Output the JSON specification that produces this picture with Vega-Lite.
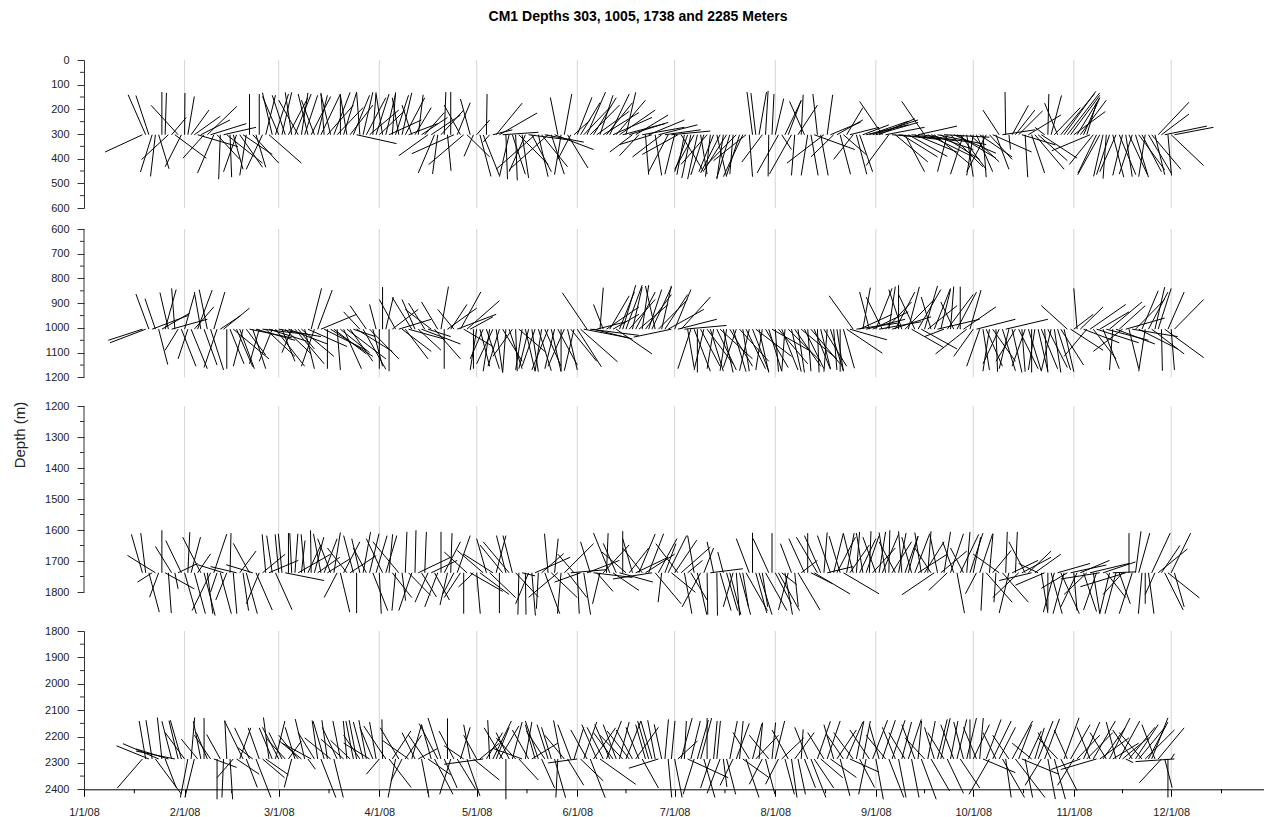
{
"$schema": "https://vega.github.io/schema/vega-lite/v6.json",
"padding": {"left": 12, "top": 10, "right": 0, "bottom": 0},
"title": {"text": "CM1 Depths 303, 1005, 1738 and 2285 Meters", "font": "Liberation Sans", "fontSize": 14, "fontWeight": "bold", "color": "#000", "anchor": "middle", "offset": 30},
"config": {"font": "Liberation Sans", "view": {"stroke": null}, "axis": {"grid": false, "labelOverlap": false, "labelFont": "Liberation Sans", "labelFontSize": 11, "labelColor": "#222", "tickColor": "#333", "domainColor": "#333", "tickWidth": 1, "domainWidth": 1, "tickSize": 7}},
"datasets": {
"p1": [
{"d":18,"b":303,"e":6.5,"f":373},{"d":19,"b":303,"e":13.6,"f":141},{"d":20,"b":303,"e":16,"f":144},{"d":21,"b":303,"e":17.4,"f":454},{"d":22,"b":303,"e":20.5,"f":472},{"d":23,"b":303,"e":26.2,"f":441},{"d":24,"b":303,"e":24,"f":130},{"d":25,"b":303,"e":25.4,"f":133},{"d":26,"b":303,"e":17.7,"f":404},{"d":27,"b":303,"e":31.5,"f":233},{"d":28,"b":303,"e":37.7,"f":398},{"d":29,"b":303,"e":20.7,"f":184},{"d":30,"b":303,"e":25,"f":433},{"d":31,"b":303,"e":31.1,"f":134},{"d":32,"b":303,"e":34,"f":148},{"d":33,"b":303,"e":38.5,"f":203},{"d":34,"b":303,"e":42,"f":228},{"d":35,"b":303,"e":47.4,"f":351},{"d":36,"b":303,"e":45,"f":243},{"d":37,"b":303,"e":30.5,"f":398},{"d":38,"b":303,"e":47.1,"f":188},{"d":39,"b":303,"e":50,"f":258},{"d":40,"b":303,"e":35,"f":458},{"d":41,"b":303,"e":48,"f":403},{"d":42,"b":303,"e":41.5,"f":483},{"d":43,"b":303,"e":53,"f":273},{"d":44,"b":303,"e":55,"f":418},{"d":45,"b":303,"e":45.5,"f":475},{"d":46,"b":303,"e":49,"f":443},{"d":47,"b":303,"e":43,"f":453},{"d":48,"b":303,"e":55,"f":435},{"d":49,"b":303,"e":58,"f":383},{"d":50,"b":303,"e":48,"f":468},{"d":51,"b":303,"e":51,"f":138},{"d":52,"b":303,"e":60,"f":418},{"d":53,"b":303,"e":56,"f":435},{"d":54,"b":303,"e":54,"f":138},{"d":55,"b":303,"e":50,"f":443},{"d":56,"b":303,"e":59,"f":143},{"d":57,"b":303,"e":67,"f":418},{"d":58,"b":303,"e":55,"f":133},{"d":59,"b":303,"e":63,"f":138},
{"d":60,"b":303,"e":55,"f":148},{"d":61,"b":303,"e":64,"f":131},{"d":62,"b":303,"e":58,"f":143},{"d":63,"b":303,"e":69,"f":153},{"d":64,"b":303,"e":62,"f":131},{"d":65,"b":303,"e":70,"f":138},{"d":66,"b":303,"e":60,"f":163},{"d":67,"b":303,"e":69,"f":133},{"d":68,"b":303,"e":72,"f":143},{"d":69,"b":303,"e":66,"f":138},{"d":70,"b":303,"e":76,"f":148},{"d":71,"b":303,"e":67,"f":163},{"d":72,"b":303,"e":75,"f":143},{"d":73,"b":303,"e":79,"f":138},{"d":74,"b":303,"e":73,"f":133},{"d":75,"b":303,"e":83,"f":183},{"d":76,"b":303,"e":73,"f":138},{"d":77,"b":303,"e":82,"f":131},{"d":78,"b":303,"e":86,"f":193},{"d":79,"b":303,"e":79,"f":138},{"d":80,"b":303,"e":84,"f":131},{"d":81,"b":303,"e":79,"f":143},{"d":82,"b":303,"e":89,"f":183},{"d":83,"b":303,"e":88,"f":143},{"d":84,"b":303,"e":96.3,"f":339},{"d":85,"b":303,"e":84,"f":131},{"d":86,"b":303,"e":89,"f":131},{"d":87,"b":303,"e":93,"f":153},{"d":88,"b":303,"e":97,"f":203},{"d":89,"b":303,"e":90,"f":131},{"d":90,"b":303,"e":94,"f":138},{"d":91,"b":303,"e":99,"f":203},{"d":92,"b":303,"e":90,"f":138},{"d":93,"b":303,"e":96,"f":138},{"d":94,"b":303,"e":104,"f":243},{"d":95,"b":303,"e":96,"f":131},{"d":96,"b":303,"e":100,"f":143},{"d":97,"b":303,"e":95,"f":153},{"d":98,"b":303,"e":101,"f":133},{"d":99,"b":303,"e":105,"f":153},
{"d":100,"b":303,"e":109,"f":258},{"d":101,"b":303,"e":98,"f":183},{"d":102,"b":303,"e":107,"f":193},{"d":103,"b":303,"e":104.5,"f":141},{"d":104,"b":303,"e":112,"f":233},{"d":105,"b":303,"e":111,"f":213},{"d":106,"b":303,"e":97,"f":388},{"d":107,"b":303,"e":116,"f":223},{"d":108,"b":303,"e":103,"f":458},{"d":109,"b":303,"e":107.4,"f":462},{"d":110,"b":303,"e":117,"f":203},{"d":111,"b":303,"e":111.5,"f":130},{"d":112,"b":303,"e":113.1,"f":449},{"d":113,"b":303,"e":113,"f":130},{"d":114,"b":303,"e":101,"f":380},{"d":115,"b":303,"e":119,"f":173},{"d":116,"b":303,"e":111,"f":183},{"d":117,"b":303,"e":106.2,"f":424},{"d":118,"b":303,"e":125,"f":393},{"d":119,"b":303,"e":116,"f":158},{"d":120,"b":303,"e":117.1,"f":391},{"d":121,"b":303,"e":125,"f":243},{"d":122,"b":303,"e":125.4,"f":472},{"d":123,"b":303,"e":128,"f":468},{"d":124,"b":303,"e":124.2,"f":138},{"d":125,"b":303,"e":123,"f":333},{"d":126,"b":303,"e":132,"f":283},{"d":127,"b":303,"e":135,"f":175},{"d":128,"b":303,"e":139.6,"f":215},{"d":129,"b":303,"e":140,"f":293},{"d":130,"b":303,"e":130.5,"f":483},{"d":131,"b":303,"e":128,"f":473},{"d":132,"b":303,"e":136,"f":463},{"d":133,"b":303,"e":133.5,"f":488},{"d":134,"b":303,"e":143,"f":423},{"d":135,"b":303,"e":137,"f":478},{"d":136,"b":303,"e":131,"f":453},{"d":137,"b":303,"e":149,"f":323},{"d":138,"b":303,"e":144,"f":453},{"d":139,"b":303,"e":127,"f":443},
{"d":140,"b":303,"e":143,"f":473},{"d":141,"b":303,"e":149,"f":433},{"d":142,"b":303,"e":154,"f":333},{"d":143,"b":303,"e":131,"f":445},{"d":144,"b":303,"e":148,"f":463},{"d":145,"b":303,"e":157,"f":363},{"d":146,"b":303,"e":143.7,"f":152},{"d":147,"b":303,"e":145,"f":465},{"d":148,"b":303,"e":150.3,"f":138},{"d":149,"b":303,"e":155.3,"f":438},{"d":150,"b":303,"e":146,"f":403},{"d":151,"b":303,"e":156,"f":243},{"d":152,"b":303,"e":156.5,"f":152},{"d":153,"b":303,"e":159,"f":173},{"d":154,"b":303,"e":162,"f":193},{"d":155,"b":303,"e":160.7,"f":130},{"d":156,"b":303,"e":165,"f":183},{"d":157,"b":303,"e":164,"f":153},{"d":158,"b":303,"e":168,"f":208},{"d":159,"b":303,"e":163,"f":143},{"d":160,"b":303,"e":171,"f":213},{"d":161,"b":303,"e":169,"f":173},{"d":162,"b":303,"e":168,"f":138},{"d":163,"b":303,"e":175,"f":233},{"d":164,"b":303,"e":173,"f":163},{"d":165,"b":303,"e":176,"f":203},{"d":166,"b":303,"e":179,"f":258},{"d":167,"b":303,"e":170,"f":131},{"d":168,"b":303,"e":180,"f":253},{"d":169,"b":303,"e":162,"f":373},{"d":170,"b":303,"e":180,"f":223},{"d":171,"b":303,"e":165,"f":388},{"d":172,"b":303,"e":185,"f":273},{"d":173,"b":303,"e":174,"f":465},{"d":174,"b":303,"e":185,"f":243},{"d":175,"b":303,"e":165,"f":343},{"d":176,"b":303,"e":178,"f":468},{"d":177,"b":303,"e":189,"f":263},{"d":178,"b":303,"e":169,"f":393},{"d":179,"b":303,"e":190,"f":283},
{"d":180,"b":303,"e":174,"f":453},{"d":181,"b":303,"e":193,"f":288},{"d":182,"b":303,"e":179,"f":463},{"d":183,"b":303,"e":172,"f":383},{"d":184,"b":303,"e":191,"f":453},{"d":185,"b":303,"e":182.7,"f":465},{"d":186,"b":303,"e":182,"f":453},{"d":187,"b":303,"e":184.2,"f":479},{"d":188,"b":303,"e":182,"f":443},{"d":189,"b":303,"e":186,"f":483},{"d":190,"b":303,"e":192,"f":463},{"d":191,"b":303,"e":187,"f":466},{"d":192,"b":303,"e":184,"f":423},{"d":193,"b":303,"e":191.5,"f":473},{"d":194,"b":303,"e":189.5,"f":453},{"d":195,"b":303,"e":198,"f":473},{"d":196,"b":303,"e":190,"f":458},{"d":197,"b":303,"e":195,"f":483},{"d":198,"b":303,"e":191,"f":448},{"d":199,"b":303,"e":195,"f":478},{"d":200,"b":303,"e":199,"f":463},{"d":201,"b":303,"e":192,"f":423},{"d":202,"b":303,"e":198,"f":468},{"d":203,"b":303,"e":197,"f":473},{"d":204,"b":303,"e":194,"f":408},{"d":205,"b":303,"e":206,"f":473},{"d":206,"b":303,"e":204.3,"f":130},{"d":207,"b":303,"e":205.5,"f":134},{"d":208,"b":303,"e":210.3,"f":130},{"d":209,"b":303,"e":202.7,"f":414},{"d":210,"b":303,"e":210.8,"f":125},{"d":211,"b":303,"e":210.8,"f":472},{"d":212,"b":303,"e":212.6,"f":138},{"d":213,"b":303,"e":215.6,"f":157},{"d":214,"b":303,"e":207.4,"f":458},{"d":215,"b":303,"e":218,"f":363},{"d":216,"b":303,"e":221,"f":165},{"d":217,"b":303,"e":221,"f":163},{"d":218,"b":303,"e":211.2,"f":462},{"d":219,"b":303,"e":218,"f":468},
{"d":220,"b":303,"e":226,"f":183},{"d":221,"b":303,"e":221.6,"f":141},{"d":222,"b":303,"e":217.4,"f":168},{"d":223,"b":303,"e":221,"f":468},{"d":224,"b":303,"e":226.2,"f":468},{"d":225,"b":303,"e":237.5,"f":363},{"d":226,"b":303,"e":224.6,"f":138},{"d":227,"b":303,"e":229.3,"f":468},{"d":228,"b":303,"e":216.6,"f":418},{"d":229,"b":303,"e":230.7,"f":141},{"d":230,"b":303,"e":239.3,"f":252},{"d":231,"b":303,"e":224,"f":393},{"d":232,"b":303,"e":240,"f":243},{"d":233,"b":303,"e":236.2,"f":463},{"d":234,"b":303,"e":241,"f":383},{"d":235,"b":303,"e":240,"f":193},{"d":236,"b":303,"e":245,"f":273},{"d":237,"b":303,"e":231,"f":403},{"d":238,"b":303,"e":241.2,"f":463},{"d":239,"b":303,"e":243,"f":453},{"d":240,"b":303,"e":248,"f":263},{"d":241,"b":303,"e":254,"f":263},{"d":242,"b":303,"e":254,"f":248},{"d":243,"b":303,"e":257,"f":243},{"d":244,"b":303,"e":257,"f":253},{"d":245,"b":303,"e":256,"f":238},{"d":246,"b":303,"e":239,"f":168},{"d":247,"b":303,"e":259,"f":273},{"d":248,"b":303,"e":241,"f":428},{"d":249,"b":303,"e":263,"f":318},{"d":250,"b":303,"e":260,"f":413},{"d":251,"b":303,"e":264,"f":323},{"d":252,"b":303,"e":263,"f":393},{"d":253,"b":303,"e":259,"f":453},{"d":254,"b":303,"e":266,"f":391},{"d":255,"b":303,"e":269,"f":328},{"d":256,"b":303,"e":269,"f":373},{"d":257,"b":303,"e":269,"f":268},{"d":258,"b":303,"e":273,"f":333},{"d":259,"b":303,"e":252,"f":168},
{"d":260,"b":303,"e":274,"f":393},{"d":261,"b":303,"e":274,"f":363},{"d":262,"b":303,"e":273,"f":423},{"d":263,"b":303,"e":278,"f":343},{"d":264,"b":303,"e":276,"f":403},{"d":265,"b":303,"e":279,"f":313},{"d":266,"b":303,"e":263,"f":453},{"d":267,"b":303,"e":277,"f":433},{"d":268,"b":303,"e":281,"f":378},{"d":269,"b":303,"e":281,"f":398},{"d":270,"b":303,"e":278,"f":443},{"d":271,"b":303,"e":267,"f":463},{"d":272,"b":303,"e":274,"f":473},{"d":273,"b":303,"e":282,"f":413},{"d":274,"b":303,"e":272,"f":468},{"d":275,"b":303,"e":280,"f":453},{"d":276,"b":303,"e":286,"f":393},{"d":277,"b":303,"e":278,"f":475},{"d":278,"b":303,"e":272,"f":453},{"d":279,"b":303,"e":286,"f":403},{"d":280,"b":303,"e":292,"f":373},{"d":281,"b":303,"e":285,"f":443},{"d":282,"b":303,"e":277,"f":203},{"d":283,"b":303,"e":293,"f":283},{"d":284,"b":303,"e":283.8,"f":130},{"d":285,"b":303,"e":285.5,"f":363},{"d":286,"b":303,"e":291,"f":184},{"d":287,"b":303,"e":293,"f":203},{"d":288,"b":303,"e":295.4,"f":206},{"d":289,"b":303,"e":299.3,"f":344},{"d":290,"b":303,"e":290.8,"f":475},{"d":291,"b":303,"e":301,"f":223},{"d":292,"b":303,"e":296,"f":458},{"d":293,"b":303,"e":302,"f":443},{"d":294,"b":303,"e":303,"f":408},{"d":295,"b":303,"e":306,"f":398},{"d":296,"b":303,"e":293,"f":273},{"d":297,"b":303,"e":297.3,"f":138},{"d":298,"b":303,"e":301.2,"f":144},{"d":299,"b":303,"e":307,"f":193},
{"d":300,"b":303,"e":296,"f":175},{"d":301,"b":303,"e":311.3,"f":138},{"d":302,"b":303,"e":311.8,"f":127},{"d":303,"b":303,"e":313,"f":133},{"d":304,"b":303,"e":313,"f":143},{"d":305,"b":303,"e":314.7,"f":209},{"d":306,"b":303,"e":313,"f":153},{"d":307,"b":303,"e":315,"f":163},{"d":308,"b":303,"e":313,"f":153},{"d":309,"b":303,"e":312,"f":173},{"d":310,"b":303,"e":298.2,"f":368},{"d":311,"b":303,"e":303.6,"f":424},{"d":312,"b":303,"e":306.3,"f":458},{"d":313,"b":303,"e":306.2,"f":465},{"d":314,"b":303,"e":311.1,"f":472},{"d":315,"b":303,"e":314,"f":481},{"d":316,"b":303,"e":312,"f":465},{"d":317,"b":303,"e":320.4,"f":475},{"d":318,"b":303,"e":313,"f":453},{"d":319,"b":303,"e":324.1,"f":465},{"d":320,"b":303,"e":317,"f":468},{"d":321,"b":303,"e":323,"f":473},{"d":322,"b":303,"e":327.7,"f":465},{"d":323,"b":303,"e":319,"f":463},{"d":324,"b":303,"e":328,"f":475},{"d":325,"b":303,"e":333,"f":445},{"d":326,"b":303,"e":332,"f":453},{"d":327,"b":303,"e":325,"f":473},{"d":328,"b":303,"e":335,"f":458},{"d":329,"b":303,"e":338,"f":443},{"d":330,"b":303,"e":333,"f":465},{"d":331,"b":303,"e":340.5,"f":171},{"d":332,"b":303,"e":340.5,"f":219},{"d":333,"b":303,"e":346,"f":268},{"d":334,"b":303,"e":335.1,"f":468},{"d":335,"b":303,"e":345,"f":428},{"d":336,"b":303,"e":348,"f":273}
],
"p2": [
{"d":18,"b":1005,"e":7.5,"f":1050},{"d":19,"b":1005,"e":8,"f":1060},{"d":20,"b":1005,"e":16,"f":863},{"d":21,"b":1005,"e":32,"f":950},{"d":22,"b":1005,"e":18.8,"f":882},{"d":23,"b":1005,"e":25.8,"f":1148},{"d":24,"b":1005,"e":32.6,"f":940},{"d":25,"b":1005,"e":28.4,"f":845},{"d":26,"b":1005,"e":23.4,"f":857},{"d":27,"b":1005,"e":38,"f":965},{"d":28,"b":1005,"e":27,"f":840},{"d":29,"b":1005,"e":25,"f":1090},{"d":30,"b":1005,"e":34.5,"f":1155},{"d":31,"b":1005,"e":34,"f":865},{"d":32,"b":1005,"e":29,"f":1125},{"d":33,"b":1005,"e":38,"f":1165},{"d":34,"b":1005,"e":40,"f":915},{"d":35,"b":1005,"e":39.5,"f":847},{"d":36,"b":1005,"e":34,"f":855},{"d":37,"b":1005,"e":41,"f":1150},{"d":38,"b":1005,"e":35.5,"f":845},{"d":39,"b":1005,"e":43,"f":1170},{"d":40,"b":1005,"e":43.4,"f":855},{"d":41,"b":1005,"e":37,"f":1160},{"d":42,"b":1005,"e":48.3,"f":950},{"d":43,"b":1005,"e":51,"f":920},{"d":44,"b":1005,"e":44,"f":1165},{"d":45,"b":1005,"e":49.3,"f":1145},{"d":46,"b":1005,"e":57,"f":1125},{"d":47,"b":1005,"e":52,"f":1157},{"d":48,"b":1005,"e":52.5,"f":1165},{"d":49,"b":1005,"e":46,"f":1155},{"d":50,"b":1005,"e":56,"f":1110},{"d":51,"b":1005,"e":64,"f":1040},{"d":52,"b":1005,"e":56,"f":1165},{"d":53,"b":1005,"e":65,"f":1050},{"d":54,"b":1005,"e":51,"f":1145},{"d":55,"b":1005,"e":68,"f":1025},{"d":56,"b":1005,"e":65,"f":1115},{"d":57,"b":1005,"e":69,"f":1055},{"d":58,"b":1005,"e":54,"f":1135},{"d":59,"b":1005,"e":68,"f":1155},
{"d":60,"b":1005,"e":73,"f":1035},{"d":61,"b":1005,"e":65,"f":1135},{"d":62,"b":1005,"e":70,"f":1105},{"d":63,"b":1005,"e":75,"f":1065},{"d":64,"b":1005,"e":61,"f":1100},{"d":65,"b":1005,"e":74,"f":1145},{"d":66,"b":1005,"e":71,"f":1085},{"d":67,"b":1005,"e":77,"f":1115},{"d":68,"b":1005,"e":71,"f":1165},{"d":69,"b":1005,"e":81,"f":1075},{"d":70,"b":1005,"e":73.2,"f":840},{"d":71,"b":1005,"e":67,"f":1155},{"d":72,"b":1005,"e":76.5,"f":847},{"d":73,"b":1005,"e":84,"f":945},{"d":74,"b":1005,"e":87,"f":1090},{"d":75,"b":1005,"e":75,"f":1165},{"d":76,"b":1005,"e":89,"f":1115},{"d":77,"b":1005,"e":87,"f":1105},{"d":78,"b":1005,"e":79,"f":1170},{"d":79,"b":1005,"e":88,"f":1100},{"d":80,"b":1005,"e":85.5,"f":1165},{"d":81,"b":1005,"e":93,"f":1125},{"d":82,"b":1005,"e":89,"f":1135},{"d":83,"b":1005,"e":89.8,"f":1035},{"d":84,"b":1005,"e":95,"f":1095},{"d":85,"b":1005,"e":80,"f":935},{"d":86,"b":1005,"e":93,"f":1167},{"d":87,"b":1005,"e":82,"f":910},{"d":88,"b":1005,"e":97,"f":1125},{"d":89,"b":1005,"e":92,"f":1155},{"d":90,"b":1005,"e":88,"f":905},{"d":91,"b":1005,"e":91,"f":1165},{"d":92,"b":1005,"e":92,"f":835},{"d":93,"b":1005,"e":95.3,"f":875},{"d":94,"b":1005,"e":94,"f":1175},{"d":95,"b":1005,"e":103,"f":925},{"d":96,"b":1005,"e":91,"f":885},{"d":97,"b":1005,"e":107,"f":965},{"d":98,"b":1005,"e":107,"f":1095},{"d":99,"b":1005,"e":106,"f":1125},
{"d":100,"b":1005,"e":111,"f":1045},{"d":101,"b":1005,"e":95,"f":877},{"d":102,"b":1005,"e":98,"f":885},{"d":103,"b":1005,"e":110,"f":1090},{"d":104,"b":1005,"e":116,"f":1065},{"d":105,"b":1005,"e":100,"f":900},{"d":106,"b":1005,"e":113,"f":1035},{"d":107,"b":1005,"e":99,"f":925},{"d":108,"b":1005,"e":116,"f":1125},{"d":109,"b":1005,"e":104,"f":895},{"d":110,"b":1005,"e":112.3,"f":833},{"d":111,"b":1005,"e":111,"f":1165},{"d":112,"b":1005,"e":121,"f":920},{"d":113,"b":1005,"e":118,"f":905},{"d":114,"b":1005,"e":109,"f":925},{"d":115,"b":1005,"e":127,"f":945},{"d":116,"b":1005,"e":122.3,"f":854},{"d":117,"b":1005,"e":126,"f":1075},{"d":118,"b":1005,"e":128,"f":890},{"d":119,"b":1005,"e":126,"f":955},{"d":120,"b":1005,"e":120,"f":1165},{"d":121,"b":1005,"e":119,"f":1170},{"d":122,"b":1005,"e":125,"f":1155},{"d":123,"b":1005,"e":119,"f":1125},{"d":124,"b":1005,"e":128,"f":1165},{"d":125,"b":1005,"e":123,"f":1175},{"d":126,"b":1005,"e":121,"f":1145},{"d":127,"b":1005,"e":129,"f":1180},{"d":128,"b":1005,"e":124.5,"f":1155},{"d":129,"b":1005,"e":135,"f":1135},{"d":130,"b":1005,"e":129,"f":1180},{"d":131,"b":1005,"e":135,"f":1165},{"d":132,"b":1005,"e":126,"f":1115},{"d":133,"b":1005,"e":133.5,"f":1175},{"d":134,"b":1005,"e":142,"f":1095},{"d":135,"b":1005,"e":133,"f":1170},{"d":136,"b":1005,"e":139,"f":1175},{"d":137,"b":1005,"e":134,"f":1165},{"d":138,"b":1005,"e":140,"f":1177},{"d":139,"b":1005,"e":135,"f":1155},
{"d":140,"b":1005,"e":144,"f":1173},{"d":141,"b":1005,"e":139,"f":1175},{"d":142,"b":1005,"e":147,"f":1155},{"d":143,"b":1005,"e":138,"f":1170},{"d":144,"b":1005,"e":147,"f":1177},{"d":145,"b":1005,"e":142,"f":1165},{"d":146,"b":1005,"e":152,"f":1150},{"d":147,"b":1005,"e":147,"f":1175},{"d":148,"b":1005,"e":143,"f":1155},{"d":149,"b":1005,"e":152,"f":1170},{"d":150,"b":1005,"e":158,"f":1135},{"d":151,"b":1005,"e":148,"f":1173},{"d":152,"b":1005,"e":159.4,"f":1157},{"d":153,"b":1005,"e":164.4,"f":1137},{"d":154,"b":1005,"e":168,"f":1040},{"d":155,"b":1005,"e":147.4,"f":858},{"d":156,"b":1005,"e":171,"f":1030},{"d":157,"b":1005,"e":169,"f":1045},{"d":158,"b":1005,"e":167,"f":975},{"d":159,"b":1005,"e":160,"f":837},{"d":160,"b":1005,"e":157,"f":905},{"d":161,"b":1005,"e":171,"f":915},{"d":162,"b":1005,"e":168,"f":870},{"d":163,"b":1005,"e":171,"f":945},{"d":164,"b":1005,"e":175,"f":1105},{"d":165,"b":1005,"e":169.6,"f":854},{"d":166,"b":1005,"e":170,"f":827},{"d":167,"b":1005,"e":172,"f":827},{"d":168,"b":1005,"e":176,"f":885},{"d":169,"b":1005,"e":172,"f":835},{"d":170,"b":1005,"e":176,"f":855},{"d":171,"b":1005,"e":180,"f":905},{"d":172,"b":1005,"e":174,"f":827},{"d":173,"b":1005,"e":181,"f":865},{"d":174,"b":1005,"e":178,"f":845},{"d":175,"b":1005,"e":181,"f":835},{"d":176,"b":1005,"e":173,"f":830},{"d":177,"b":1005,"e":186,"f":885},{"d":178,"b":1005,"e":181,"f":830},{"d":179,"b":1005,"e":186,"f":865},
{"d":180,"b":1005,"e":191,"f":925},{"d":181,"b":1005,"e":169.4,"f":1037},{"d":182,"b":1005,"e":187,"f":845},{"d":183,"b":1005,"e":195,"f":965},{"d":184,"b":1005,"e":193,"f":875},{"d":185,"b":1005,"e":198,"f":990},{"d":186,"b":1005,"e":188,"f":1160},{"d":187,"b":1005,"e":183,"f":1165},{"d":188,"b":1005,"e":193,"f":1175},{"d":189,"b":1005,"e":189,"f":1180},{"d":190,"b":1005,"e":196,"f":1155},{"d":191,"b":1005,"e":188,"f":1170},{"d":192,"b":1005,"e":200,"f":1145},{"d":193,"b":1005,"e":197,"f":1175},{"d":194,"b":1005,"e":192,"f":1165},{"d":195,"b":1005,"e":201,"f":1170},{"d":196,"b":1005,"e":206,"f":1125},{"d":197,"b":1005,"e":200,"f":1180},{"d":198,"b":1005,"e":196,"f":1173},{"d":199,"b":1005,"e":206,"f":1155},{"d":200,"b":1005,"e":204,"f":1177},{"d":201,"b":1005,"e":197,"f":1160},{"d":202,"b":1005,"e":211,"f":1135},{"d":203,"b":1005,"e":205,"f":1175},{"d":204,"b":1005,"e":210,"f":1165},{"d":205,"b":1005,"e":202,"f":1173},{"d":206,"b":1005,"e":211,"f":1175},{"d":207,"b":1005,"e":218,"f":1115},{"d":208,"b":1005,"e":211,"f":1180},{"d":209,"b":1005,"e":207,"f":1170},{"d":210,"b":1005,"e":217,"f":1160},{"d":211,"b":1005,"e":215,"f":1175},{"d":212,"b":1005,"e":224,"f":1095},{"d":213,"b":1005,"e":214,"f":1177},{"d":214,"b":1005,"e":223,"f":1145},{"d":215,"b":1005,"e":220,"f":1170},{"d":216,"b":1005,"e":215,"f":1175},{"d":217,"b":1005,"e":227,"f":1135},{"d":218,"b":1005,"e":221,"f":1177},{"d":219,"b":1005,"e":227,"f":1155},
{"d":220,"b":1005,"e":222,"f":1180},{"d":221,"b":1005,"e":232,"f":1125},{"d":222,"b":1005,"e":228,"f":1165},{"d":223,"b":1005,"e":224,"f":1175},{"d":224,"b":1005,"e":233,"f":1145},{"d":225,"b":1005,"e":230,"f":1167},{"d":226,"b":1005,"e":226.5,"f":1180},{"d":227,"b":1005,"e":230,"f":1165},{"d":228,"b":1005,"e":235,"f":1155},{"d":229,"b":1005,"e":228,"f":1177},{"d":230,"b":1005,"e":234,"f":1173},{"d":231,"b":1005,"e":232,"f":1170},{"d":232,"b":1005,"e":234,"f":1175},{"d":233,"b":1005,"e":233,"f":1177},{"d":234,"b":1005,"e":237.4,"f":1163},{"d":235,"b":1005,"e":246,"f":1102},{"d":236,"b":1005,"e":247.4,"f":1048},{"d":237,"b":1005,"e":229.6,"f":870},{"d":238,"b":1005,"e":251,"f":980},{"d":239,"b":1005,"e":249,"f":945},{"d":240,"b":1005,"e":242.3,"f":837},{"d":241,"b":1005,"e":253,"f":965},{"d":242,"b":1005,"e":239,"f":855},{"d":243,"b":1005,"e":254,"f":935},{"d":244,"b":1005,"e":249,"f":840},{"d":245,"b":1005,"e":258,"f":975},{"d":246,"b":1005,"e":241,"f":875},{"d":247,"b":1005,"e":255,"f":895},{"d":248,"b":1005,"e":250,"f":833},{"d":249,"b":1005,"e":261,"f":955},{"d":250,"b":1005,"e":256,"f":855},{"d":251,"b":1005,"e":251,"f":827},{"d":252,"b":1005,"e":248,"f":845},{"d":253,"b":1005,"e":262,"f":885},{"d":254,"b":1005,"e":257.4,"f":834},{"d":255,"b":1005,"e":265,"f":1080},{"d":256,"b":1005,"e":251,"f":865},{"d":257,"b":1005,"e":264,"f":845},{"d":258,"b":1005,"e":269,"f":1085},{"d":259,"b":1005,"e":263,"f":830},
{"d":260,"b":1005,"e":269,"f":910},{"d":261,"b":1005,"e":258,"f":875},{"d":262,"b":1005,"e":267,"f":840},{"d":263,"b":1005,"e":276,"f":965},{"d":264,"b":1005,"e":267,"f":845},{"d":265,"b":1005,"e":259,"f":1035},{"d":266,"b":1005,"e":274,"f":865},{"d":267,"b":1005,"e":268,"f":833},{"d":268,"b":1005,"e":264,"f":895},{"d":269,"b":1005,"e":275,"f":855},{"d":270,"b":1005,"e":270,"f":833},{"d":271,"b":1005,"e":281,"f":915},{"d":272,"b":1005,"e":262.4,"f":1105},{"d":273,"b":1005,"e":276.4,"f":847},{"d":274,"b":1005,"e":268,"f":1115},{"d":275,"b":1005,"e":287,"f":965},{"d":276,"b":1005,"e":272,"f":1155},{"d":277,"b":1005,"e":279,"f":1170},{"d":278,"b":1005,"e":283,"f":1155},{"d":279,"b":1005,"e":277,"f":1175},{"d":280,"b":1005,"e":287,"f":1135},{"d":281,"b":1005,"e":281.5,"f":1177},{"d":282,"b":1005,"e":277,"f":1145},{"d":283,"b":1005,"e":287,"f":1173},{"d":284,"b":1005,"e":297,"f":965},{"d":285,"b":1005,"e":282,"f":1165},{"d":286,"b":1005,"e":289,"f":1180},{"d":287,"b":1005,"e":281,"f":1135},{"d":288,"b":1005,"e":294,"f":1165},{"d":289,"b":1005,"e":290,"f":1177},{"d":290,"b":1005,"e":286,"f":1155},{"d":291,"b":1005,"e":295,"f":1175},{"d":292,"b":1005,"e":292,"f":1180},{"d":293,"b":1005,"e":291,"f":1170},{"d":294,"b":1005,"e":297,"f":1175},{"d":295,"b":1005,"e":300,"f":1165},{"d":296,"b":1005,"e":297,"f":1180},{"d":297,"b":1005,"e":303,"f":1160},{"d":298,"b":1005,"e":295,"f":1173},{"d":299,"b":1005,"e":301,"f":1180},
{"d":300,"b":1005,"e":304,"f":1170},{"d":301,"b":1005,"e":308,"f":1150},{"d":302,"b":1005,"e":305,"f":1177},{"d":303,"b":1005,"e":295,"f":910},{"d":304,"b":1005,"e":314,"f":1090},{"d":305,"b":1005,"e":311,"f":945},{"d":306,"b":1005,"e":305,"f":840},{"d":307,"b":1005,"e":314,"f":915},{"d":308,"b":1005,"e":319,"f":1060},{"d":309,"b":1005,"e":302,"f":1115},{"d":310,"b":1005,"e":321,"f":905},{"d":311,"b":1005,"e":318,"f":1125},{"d":312,"b":1005,"e":325,"f":1060},{"d":313,"b":1005,"e":322,"f":935},{"d":314,"b":1005,"e":319,"f":1165},{"d":315,"b":1005,"e":328,"f":1050},{"d":316,"b":1005,"e":326,"f":895},{"d":317,"b":1005,"e":316,"f":1170},{"d":318,"b":1005,"e":330,"f":1065},{"d":319,"b":1005,"e":327,"f":910},{"d":320,"b":1005,"e":311,"f":1095},{"d":321,"b":1005,"e":333,"f":960},{"d":322,"b":1005,"e":325,"f":1165},{"d":323,"b":1005,"e":337,"f":1035},{"d":324,"b":1005,"e":333,"f":885},{"d":325,"b":1005,"e":337,"f":1085},{"d":326,"b":1005,"e":331,"f":850},{"d":327,"b":1005,"e":325,"f":1175},{"d":328,"b":1005,"e":334,"f":855},{"d":329,"b":1005,"e":339,"f":1105},{"d":330,"b":1005,"e":333,"f":835},{"d":331,"b":1005,"e":335,"f":840},{"d":332,"b":1005,"e":332.3,"f":1173},{"d":333,"b":1005,"e":345,"f":1120},{"d":334,"b":1005,"e":339,"f":855},{"d":335,"b":1005,"e":336,"f":1170},{"d":336,"b":1005,"e":345,"f":885}
],
"p3": [
{"d":18,"b":1738,"e":14.6,"f":1614},{"d":19,"b":1738,"e":17.5,"f":1610},{"d":20,"b":1738,"e":23.2,"f":1865},{"d":21,"b":1738,"e":16.5,"f":1768},{"d":22,"b":1738,"e":13.4,"f":1682},{"d":23,"b":1738,"e":20.2,"f":1817},{"d":24,"b":1738,"e":24,"f":1601},{"d":25,"b":1738,"e":34,"f":1790},{"d":26,"b":1738,"e":26.9,"f":1868},{"d":27,"b":1738,"e":22,"f":1653},{"d":28,"b":1738,"e":29,"f":1790},{"d":29,"b":1738,"e":35,"f":1708},{"d":30,"b":1738,"e":25.2,"f":1634},{"d":31,"b":1738,"e":34.6,"f":1870},{"d":32,"b":1738,"e":32.6,"f":1607},{"d":33,"b":1738,"e":35.9,"f":1623},{"d":34,"b":1738,"e":37.4,"f":1870},{"d":35,"b":1738,"e":39,"f":1677},{"d":36,"b":1738,"e":30.4,"f":1623},{"d":37,"b":1738,"e":40.4,"f":1876},{"d":38,"b":1738,"e":39.7,"f":1870},{"d":39,"b":1738,"e":33.3,"f":1860},{"d":40,"b":1738,"e":44,"f":1613},{"d":41,"b":1738,"e":39,"f":1800},{"d":42,"b":1738,"e":45.4,"f":1870},{"d":43,"b":1738,"e":35,"f":1712},{"d":44,"b":1738,"e":40.6,"f":1826},{"d":45,"b":1738,"e":45.3,"f":1610},{"d":46,"b":1738,"e":47.1,"f":1870},{"d":47,"b":1738,"e":39,"f":1718},{"d":48,"b":1738,"e":53,"f":1668},{"d":49,"b":1738,"e":50.7,"f":1860},{"d":50,"b":1738,"e":53.4,"f":1870},{"d":51,"b":1738,"e":46,"f":1643},{"d":52,"b":1738,"e":43.8,"f":1712},{"d":53,"b":1738,"e":58,"f":1858},{"d":54,"b":1738,"e":50,"f":1838},{"d":55,"b":1738,"e":62,"f":1678},{"d":56,"b":1738,"e":54.9,"f":1614},{"d":57,"b":1738,"e":66,"f":1698},{"d":58,"b":1738,"e":56.3,"f":1618},{"d":59,"b":1738,"e":64.1,"f":1857},
{"d":60,"b":1738,"e":58.9,"f":1614},{"d":61,"b":1738,"e":59.9,"f":1612},{"d":62,"b":1738,"e":74,"f":1763},{"d":63,"b":1738,"e":63,"f":1610},{"d":64,"b":1738,"e":63.4,"f":1610},{"d":65,"b":1738,"e":65.9,"f":1612},{"d":66,"b":1738,"e":76,"f":1678},{"d":67,"b":1738,"e":68.1,"f":1634},{"d":68,"b":1738,"e":66.9,"f":1614},{"d":69,"b":1738,"e":73,"f":1648},{"d":70,"b":1738,"e":69.8,"f":1601},{"d":71,"b":1738,"e":73.9,"f":1623},{"d":72,"b":1738,"e":78.8,"f":1688},{"d":73,"b":1738,"e":70.7,"f":1612},{"d":74,"b":1738,"e":78,"f":1628},{"d":75,"b":1738,"e":81.8,"f":1694},{"d":76,"b":1738,"e":72,"f":1628},{"d":77,"b":1738,"e":79,"f":1608},{"d":78,"b":1738,"e":74,"f":1818},{"d":79,"b":1738,"e":81.9,"f":1865},{"d":80,"b":1738,"e":85,"f":1638},{"d":81,"b":1738,"e":75,"f":1658},{"d":82,"b":1738,"e":90,"f":1683},{"d":83,"b":1738,"e":80,"f":1618},{"d":84,"b":1738,"e":84,"f":1868},{"d":85,"b":1738,"e":82.5,"f":1628},{"d":86,"b":1738,"e":88.3,"f":1607},{"d":87,"b":1738,"e":83,"f":1658},{"d":88,"b":1738,"e":90.9,"f":1612},{"d":89,"b":1738,"e":93.6,"f":1860},{"d":90,"b":1738,"e":93.4,"f":1618},{"d":91,"b":1738,"e":91.6,"f":1870},{"d":92,"b":1738,"e":87,"f":1628},{"d":93,"b":1738,"e":96.4,"f":1618},{"d":94,"b":1738,"e":95.1,"f":1614},{"d":95,"b":1738,"e":101,"f":1818},{"d":96,"b":1738,"e":94.9,"f":1860},{"d":97,"b":1738,"e":89,"f":1638},{"d":98,"b":1738,"e":99.1,"f":1828},{"d":99,"b":1738,"e":99.5,"f":1606},
{"d":100,"b":1738,"e":106.8,"f":1811},{"d":101,"b":1738,"e":97,"f":1860},{"d":102,"b":1738,"e":102.3,"f":1601},{"d":103,"b":1738,"e":113,"f":1688},{"d":104,"b":1738,"e":108.6,"f":1816},{"d":105,"b":1738,"e":105.5,"f":1606},{"d":106,"b":1738,"e":102,"f":1833},{"d":107,"b":1738,"e":115,"f":1698},{"d":108,"b":1738,"e":112.6,"f":1826},{"d":109,"b":1738,"e":105,"f":1848},{"d":110,"b":1738,"e":110,"f":1606},{"d":111,"b":1738,"e":116,"f":1638},{"d":112,"b":1738,"e":109.7,"f":1842},{"d":113,"b":1738,"e":113.4,"f":1610},{"d":114,"b":1738,"e":110.6,"f":1806},{"d":115,"b":1738,"e":119,"f":1618},{"d":116,"b":1738,"e":111,"f":1818},{"d":117,"b":1738,"e":117,"f":1870},{"d":118,"b":1738,"e":111,"f":1671},{"d":119,"b":1738,"e":129,"f":1798},{"d":120,"b":1738,"e":115.4,"f":1784},{"d":121,"b":1738,"e":122.1,"f":1870},{"d":122,"b":1738,"e":131,"f":1808},{"d":123,"b":1738,"e":115,"f":1666},{"d":124,"b":1738,"e":121,"f":1628},{"d":125,"b":1738,"e":133,"f":1818},{"d":126,"b":1738,"e":117,"f":1678},{"d":127,"b":1738,"e":130,"f":1618},{"d":128,"b":1738,"e":128,"f":1868},{"d":129,"b":1738,"e":122,"f":1648},{"d":130,"b":1738,"e":127.1,"f":1618},{"d":131,"b":1738,"e":123,"f":1638},{"d":132,"b":1738,"e":129.1,"f":1618},{"d":133,"b":1738,"e":140,"f":1816},{"d":134,"b":1738,"e":133.7,"f":1873},{"d":135,"b":1738,"e":139,"f":1748},{"d":136,"b":1738,"e":136.2,"f":1873},{"d":137,"b":1738,"e":133,"f":1838},{"d":138,"b":1738,"e":139.1,"f":1876},{"d":139,"b":1738,"e":149.8,"f":1688},
{"d":140,"b":1738,"e":139.4,"f":1854},{"d":141,"b":1738,"e":147.8,"f":1676},{"d":142,"b":1738,"e":146.6,"f":1870},{"d":143,"b":1738,"e":141.9,"f":1612},{"d":144,"b":1738,"e":152,"f":1818},{"d":145,"b":1738,"e":146.1,"f":1628},{"d":146,"b":1738,"e":137,"f":1817},{"d":147,"b":1738,"e":145.9,"f":1870},{"d":148,"b":1738,"e":157,"f":1644},{"d":149,"b":1738,"e":155,"f":1818},{"d":150,"b":1738,"e":161,"f":1728},{"d":151,"b":1738,"e":146,"f":1678},{"d":152,"b":1738,"e":152.6,"f":1870},{"d":153,"b":1738,"e":145,"f":1768},{"d":154,"b":1738,"e":156.1,"f":1873},{"d":155,"b":1738,"e":165,"f":1698},{"d":156,"b":1738,"e":153,"f":1638},{"d":157,"b":1738,"e":169,"f":1753},{"d":158,"b":1738,"e":163,"f":1798},{"d":159,"b":1738,"e":156.7,"f":1838},{"d":160,"b":1738,"e":168,"f":1648},{"d":161,"b":1738,"e":161.5,"f":1610},{"d":162,"b":1738,"e":157,"f":1610},{"d":163,"b":1738,"e":171,"f":1795},{"d":164,"b":1738,"e":160,"f":1643},{"d":165,"b":1738,"e":175.3,"f":1768},{"d":166,"b":1738,"e":166,"f":1604},{"d":167,"b":1738,"e":159.6,"f":1671},{"d":168,"b":1738,"e":174,"f":1658},{"d":169,"b":1738,"e":166,"f":1628},{"d":170,"b":1738,"e":180,"f":1688},{"d":171,"b":1738,"e":176,"f":1613},{"d":172,"b":1738,"e":166,"f":1658},{"d":173,"b":1738,"e":182,"f":1678},{"d":174,"b":1738,"e":178.6,"f":1612},{"d":175,"b":1738,"e":163,"f":1758},{"d":176,"b":1738,"e":184,"f":1838},{"d":177,"b":1738,"e":182.7,"f":1628},{"d":178,"b":1738,"e":176.9,"f":1833},{"d":179,"b":1738,"e":182.4,"f":1644},
{"d":180,"b":1738,"e":185.7,"f":1618},{"d":181,"b":1738,"e":188.4,"f":1801},{"d":182,"b":1738,"e":188.8,"f":1633},{"d":183,"b":1738,"e":176.2,"f":1644},{"d":184,"b":1738,"e":193,"f":1655},{"d":185,"b":1738,"e":187.3,"f":1870},{"d":186,"b":1738,"e":190.6,"f":1698},{"d":187,"b":1738,"e":192,"f":1826},{"d":188,"b":1738,"e":186,"f":1618},{"d":189,"b":1738,"e":191.9,"f":1873},{"d":190,"b":1738,"e":184.3,"f":1848},{"d":191,"b":1738,"e":194,"f":1658},{"d":192,"b":1738,"e":192.2,"f":1873},{"d":193,"b":1738,"e":203,"f":1725},{"d":194,"b":1738,"e":192,"f":1638},{"d":195,"b":1738,"e":195.2,"f":1876},{"d":196,"b":1738,"e":199.4,"f":1860},{"d":197,"b":1738,"e":195.3,"f":1671},{"d":198,"b":1738,"e":201.4,"f":1860},{"d":199,"b":1738,"e":202.4,"f":1873},{"d":200,"b":1738,"e":197,"f":1848},{"d":201,"b":1738,"e":202,"f":1876},{"d":202,"b":1738,"e":205.4,"f":1873},{"d":203,"b":1738,"e":204.7,"f":1846},{"d":204,"b":1738,"e":210.6,"f":1860},{"d":205,"b":1738,"e":201,"f":1628},{"d":206,"b":1738,"e":206,"f":1609},{"d":207,"b":1738,"e":210.4,"f":1868},{"d":208,"b":1738,"e":212,"f":1873},{"d":209,"b":1738,"e":210.7,"f":1848},{"d":210,"b":1738,"e":216.6,"f":1860},{"d":211,"b":1738,"e":206.2,"f":1628},{"d":212,"b":1738,"e":212,"f":1610},{"d":213,"b":1738,"e":218,"f":1838},{"d":214,"b":1738,"e":220.5,"f":1860},{"d":215,"b":1738,"e":219.6,"f":1776},{"d":216,"b":1738,"e":218.3,"f":1873},{"d":217,"b":1738,"e":214,"f":1858},{"d":218,"b":1738,"e":214.6,"f":1644},{"d":219,"b":1738,"e":220.1,"f":1848},
{"d":220,"b":1738,"e":226.8,"f":1858},{"d":221,"b":1738,"e":226,"f":1698},{"d":222,"b":1738,"e":217.2,"f":1628},{"d":223,"b":1738,"e":223,"f":1610},{"d":224,"b":1738,"e":230.6,"f":1773},{"d":225,"b":1738,"e":236,"f":1806},{"d":226,"b":1738,"e":219.5,"f":1623},{"d":227,"b":1738,"e":222,"f":1618},{"d":228,"b":1738,"e":229,"f":1608},{"d":229,"b":1738,"e":237,"f":1718},{"d":230,"b":1738,"e":226,"f":1618},{"d":231,"b":1738,"e":234,"f":1610},{"d":232,"b":1738,"e":237.7,"f":1623},{"d":233,"b":1738,"e":229.6,"f":1620},{"d":234,"b":1738,"e":245,"f":1806},{"d":235,"b":1738,"e":237.3,"f":1610},{"d":236,"b":1738,"e":242,"f":1648},{"d":237,"b":1738,"e":234,"f":1612},{"d":238,"b":1738,"e":239,"f":1606},{"d":239,"b":1738,"e":244,"f":1628},{"d":240,"b":1738,"e":238,"f":1610},{"d":241,"b":1738,"e":245,"f":1618},{"d":242,"b":1738,"e":242.5,"f":1604},{"d":243,"b":1738,"e":250,"f":1658},{"d":244,"b":1738,"e":240,"f":1623},{"d":245,"b":1738,"e":247,"f":1606},{"d":246,"b":1738,"e":251,"f":1614},{"d":247,"b":1738,"e":245,"f":1608},{"d":248,"b":1738,"e":248.3,"f":1601},{"d":249,"b":1738,"e":255,"f":1638},{"d":250,"b":1738,"e":245,"f":1638},{"d":251,"b":1738,"e":253.3,"f":1610},{"d":252,"b":1738,"e":251,"f":1604},{"d":253,"b":1738,"e":257,"f":1620},{"d":254,"b":1738,"e":257,"f":1620},{"d":255,"b":1738,"e":252,"f":1623},{"d":256,"b":1738,"e":260.6,"f":1612},{"d":257,"b":1738,"e":266,"f":1678},{"d":258,"b":1738,"e":256,"f":1608},{"d":259,"b":1738,"e":265,"f":1638},
{"d":260,"b":1738,"e":261,"f":1604},{"d":261,"b":1738,"e":256,"f":1658},{"d":262,"b":1738,"e":252,"f":1809},{"d":263,"b":1738,"e":260.7,"f":1618},{"d":264,"b":1738,"e":272,"f":1668},{"d":265,"b":1738,"e":267,"f":1606},{"d":266,"b":1738,"e":260.3,"f":1795},{"d":267,"b":1738,"e":271,"f":1612},{"d":268,"b":1738,"e":264.6,"f":1638},{"d":269,"b":1738,"e":271.3,"f":1868},{"d":270,"b":1738,"e":275.7,"f":1614},{"d":271,"b":1738,"e":267,"f":1658},{"d":272,"b":1738,"e":273,"f":1606},{"d":273,"b":1738,"e":277,"f":1610},{"d":274,"b":1738,"e":276.3,"f":1623},{"d":275,"b":1738,"e":271.6,"f":1806},{"d":276,"b":1738,"e":280,"f":1612},{"d":277,"b":1738,"e":276.4,"f":1860},{"d":278,"b":1738,"e":286,"f":1833},{"d":279,"b":1738,"e":280.1,"f":1612},{"d":280,"b":1738,"e":285.7,"f":1666},{"d":281,"b":1738,"e":280.4,"f":1833},{"d":282,"b":1738,"e":274,"f":1678},{"d":283,"b":1738,"e":291,"f":1833},{"d":284,"b":1738,"e":284.5,"f":1606},{"d":285,"b":1738,"e":282,"f":1868},{"d":286,"b":1738,"e":294,"f":1698},{"d":287,"b":1738,"e":287.6,"f":1606},{"d":288,"b":1738,"e":280,"f":1818},{"d":289,"b":1738,"e":298,"f":1688},{"d":290,"b":1738,"e":285,"f":1638},{"d":291,"b":1738,"e":298,"f":1668},{"d":292,"b":1738,"e":282,"f":1763},{"d":293,"b":1738,"e":301,"f":1678},{"d":294,"b":1738,"e":288,"f":1708},{"d":295,"b":1738,"e":297,"f":1868},{"d":296,"b":1738,"e":287,"f":1778},{"d":297,"b":1738,"e":297,"f":1860},{"d":298,"b":1738,"e":301.4,"f":1870},{"d":299,"b":1738,"e":295.6,"f":1865},
{"d":300,"b":1738,"e":310,"f":1708},{"d":301,"b":1738,"e":306.7,"f":1870},{"d":302,"b":1738,"e":298.6,"f":1870},{"d":303,"b":1738,"e":295,"f":1788},{"d":304,"b":1738,"e":315,"f":1713},{"d":305,"b":1738,"e":306,"f":1860},{"d":306,"b":1738,"e":301,"f":1848},{"d":307,"b":1738,"e":316,"f":1698},{"d":308,"b":1738,"e":312,"f":1863},{"d":309,"b":1738,"e":302,"f":1808},{"d":310,"b":1738,"e":322,"f":1708},{"d":311,"b":1738,"e":313,"f":1870},{"d":312,"b":1738,"e":308,"f":1858},{"d":313,"b":1738,"e":301,"f":1758},{"d":314,"b":1738,"e":324,"f":1703},{"d":315,"b":1738,"e":321,"f":1818},{"d":316,"b":1738,"e":313,"f":1870},{"d":317,"b":1738,"e":324,"f":1735},{"d":318,"b":1738,"e":314.6,"f":1870},{"d":319,"b":1738,"e":322.4,"f":1838},{"d":320,"b":1738,"e":314,"f":1808},{"d":321,"b":1738,"e":307,"f":1783},{"d":322,"b":1738,"e":322,"f":1610},{"d":323,"b":1738,"e":319,"f":1870},{"d":324,"b":1738,"e":325.7,"f":1604},{"d":325,"b":1738,"e":328.4,"f":1610},{"d":326,"b":1738,"e":324.9,"f":1870},{"d":327,"b":1738,"e":327,"f":1838},{"d":328,"b":1738,"e":329.7,"f":1870},{"d":329,"b":1738,"e":334.7,"f":1610},{"d":330,"b":1738,"e":327,"f":1808},{"d":331,"b":1738,"e":340,"f":1661},{"d":332,"b":1738,"e":337.7,"f":1650},{"d":333,"b":1738,"e":338.7,"f":1858},{"d":334,"b":1738,"e":343.7,"f":1819},{"d":335,"b":1738,"e":341,"f":1610},{"d":336,"b":1738,"e":339,"f":1848}
],
"p4": [
{"d":18,"b":2285,"e":10.2,"f":2396},{"d":19,"b":2285,"e":17,"f":2141},{"d":20,"b":2285,"e":10,"f":2235},{"d":21,"b":2285,"e":19.1,"f":2138},{"d":22,"b":2285,"e":30,"f":2418},{"d":23,"b":2285,"e":12,"f":2227},{"d":24,"b":2285,"e":22.6,"f":2128},{"d":25,"b":2285,"e":28.4,"f":2393},{"d":26,"b":2285,"e":16,"f":2247},{"d":27,"b":2285,"e":24,"f":2142},{"d":28,"b":2285,"e":16,"f":2255},{"d":29,"b":2285,"e":26.2,"f":2140},{"d":30,"b":2285,"e":26.6,"f":2138},{"d":31,"b":2285,"e":25,"f":2185},{"d":32,"b":2285,"e":29.7,"f":2431},{"d":33,"b":2285,"e":34.1,"f":2128},{"d":34,"b":2285,"e":31.1,"f":2431},{"d":35,"b":2285,"e":30,"f":2210},{"d":36,"b":2285,"e":33.7,"f":2142},{"d":37,"b":2285,"e":37,"f":2130},{"d":38,"b":2285,"e":34.6,"f":2185},{"d":39,"b":2285,"e":34,"f":2195},{"d":40,"b":2285,"e":47,"f":2317},{"d":41,"b":2285,"e":41,"f":2438},{"d":42,"b":2285,"e":37.8,"f":2192},{"d":43,"b":2285,"e":42.5,"f":2431},{"d":44,"b":2285,"e":43.4,"f":2139},{"d":45,"b":2285,"e":45.8,"f":2438},{"d":46,"b":2285,"e":41,"f":2356},{"d":47,"b":2285,"e":54,"f":2343},{"d":48,"b":2285,"e":51.4,"f":2167},{"d":49,"b":2285,"e":43.3,"f":2141},{"d":50,"b":2285,"e":53.4,"f":2393},{"d":51,"b":2285,"e":46.4,"f":2167},{"d":52,"b":2285,"e":47.4,"f":2242},{"d":53,"b":2285,"e":57.6,"f":2431},{"d":54,"b":2285,"e":50.6,"f":2167},{"d":55,"b":2285,"e":61.8,"f":2356},{"d":56,"b":2285,"e":63,"f":2345},{"d":57,"b":2285,"e":55.3,"f":2128},{"d":58,"b":2285,"e":54,"f":2167},{"d":59,"b":2285,"e":61.9,"f":2141},
{"d":60,"b":2285,"e":55,"f":2165},{"d":61,"b":2285,"e":57,"f":2185},{"d":62,"b":2285,"e":56,"f":2205},{"d":63,"b":2285,"e":67,"f":2217},{"d":64,"b":2285,"e":61.7,"f":2393},{"d":65,"b":2285,"e":62,"f":2165},{"d":66,"b":2285,"e":60,"f":2195},{"d":67,"b":2285,"e":60,"f":2215},{"d":68,"b":2285,"e":65.1,"f":2134},{"d":69,"b":2285,"e":71.3,"f":2324},{"d":70,"b":2285,"e":61,"f":2225},{"d":71,"b":2285,"e":66,"f":2185},{"d":72,"b":2285,"e":70.3,"f":2139},{"d":73,"b":2285,"e":77.6,"f":2431},{"d":74,"b":2285,"e":70.6,"f":2142},{"d":75,"b":2285,"e":73.3,"f":2138},{"d":76,"b":2285,"e":68,"f":2205},{"d":77,"b":2285,"e":79.9,"f":2431},{"d":78,"b":2285,"e":73.4,"f":2165},{"d":79,"b":2285,"e":76.7,"f":2141},{"d":80,"b":2285,"e":73,"f":2210},{"d":81,"b":2285,"e":79.9,"f":2141},{"d":82,"b":2285,"e":76,"f":2215},{"d":83,"b":2285,"e":80.7,"f":2141},{"d":84,"b":2285,"e":81.7,"f":2138},{"d":85,"b":2285,"e":80,"f":2195},{"d":86,"b":2285,"e":83,"f":2145},{"d":87,"b":2285,"e":84.7,"f":2138},{"d":88,"b":2285,"e":80,"f":2225},{"d":89,"b":2285,"e":85,"f":2165},{"d":90,"b":2285,"e":88,"f":2145},{"d":91,"b":2285,"e":87,"f":2343},{"d":92,"b":2285,"e":91.8,"f":2135},{"d":93,"b":2285,"e":86.2,"f":2160},{"d":94,"b":2285,"e":100.8,"f":2393},{"d":95,"b":2285,"e":100.7,"f":2179},{"d":96,"b":2285,"e":93.7,"f":2431},{"d":97,"b":2285,"e":91.3,"f":2167},{"d":98,"b":2285,"e":94.6,"f":2368},{"d":99,"b":2285,"e":104,"f":2195},
{"d":100,"b":2285,"e":92,"f":2215},{"d":101,"b":2285,"e":104,"f":2155},{"d":102,"b":2285,"e":98,"f":2185},{"d":103,"b":2285,"e":109,"f":2245},{"d":104,"b":2285,"e":106.3,"f":2431},{"d":105,"b":2285,"e":100,"f":2195},{"d":106,"b":2285,"e":113,"f":2345},{"d":107,"b":2285,"e":104,"f":2155},{"d":108,"b":2285,"e":113.7,"f":2419},{"d":109,"b":2285,"e":103.3,"f":2151},{"d":110,"b":2285,"e":106,"f":2130},{"d":111,"b":2285,"e":115,"f":2395},{"d":112,"b":2285,"e":112,"f":2131},{"d":113,"b":2285,"e":109.6,"f":2419},{"d":114,"b":2285,"e":109.4,"f":2179},{"d":115,"b":2285,"e":120.7,"f":2400},{"d":116,"b":2285,"e":119,"f":2165},{"d":117,"b":2285,"e":111,"f":2235},{"d":118,"b":2285,"e":122,"f":2425},{"d":119,"b":2285,"e":117,"f":2155},{"d":120,"b":2285,"e":128,"f":2365},{"d":121,"b":2285,"e":117,"f":2195},{"d":122,"b":2285,"e":128,"f":2225},{"d":123,"b":2285,"e":111,"f":2305},{"d":124,"b":2285,"e":129,"f":2185},{"d":125,"b":2285,"e":124.4,"f":2138},{"d":126,"b":2285,"e":131.7,"f":2141},{"d":127,"b":2285,"e":131,"f":2165},{"d":128,"b":2285,"e":134,"f":2160},{"d":129,"b":2285,"e":123.3,"f":2167},{"d":130,"b":2285,"e":130,"f":2438},{"d":131,"b":2285,"e":127,"f":2185},{"d":132,"b":2285,"e":135,"f":2145},{"d":133,"b":2285,"e":127,"f":2205},{"d":134,"b":2285,"e":140,"f":2365},{"d":135,"b":2285,"e":126,"f":2245},{"d":136,"b":2285,"e":138,"f":2145},{"d":137,"b":2285,"e":132,"f":2175},{"d":138,"b":2285,"e":146,"f":2225},{"d":139,"b":2285,"e":136,"f":2155},
{"d":140,"b":2285,"e":136,"f":2141},{"d":141,"b":2285,"e":145,"f":2395},{"d":142,"b":2285,"e":136.3,"f":2179},{"d":143,"b":2285,"e":139.6,"f":2155},{"d":144,"b":2285,"e":141,"f":2165},{"d":145,"b":2285,"e":148.4,"f":2432},{"d":146,"b":2285,"e":145.4,"f":2431},{"d":147,"b":2285,"e":144.7,"f":2139},{"d":148,"b":2285,"e":142,"f":2195},{"d":149,"b":2285,"e":154,"f":2385},{"d":150,"b":2285,"e":146,"f":2155},{"d":151,"b":2285,"e":154,"f":2165},{"d":152,"b":2285,"e":143,"f":2300},{"d":153,"b":2285,"e":160,"f":2368},{"d":154,"b":2285,"e":158,"f":2145},{"d":155,"b":2285,"e":150,"f":2175},{"d":156,"b":2285,"e":160.6,"f":2432},{"d":157,"b":2285,"e":163.8,"f":2167},{"d":158,"b":2285,"e":153.4,"f":2155},{"d":159,"b":2285,"e":170,"f":2381},{"d":160,"b":2285,"e":155,"f":2165},{"d":161,"b":2285,"e":165.6,"f":2141},{"d":162,"b":2285,"e":157.4,"f":2154},{"d":163,"b":2285,"e":157,"f":2185},{"d":164,"b":2285,"e":160,"f":2155},{"d":165,"b":2285,"e":168,"f":2145},{"d":166,"b":2285,"e":159,"f":2195},{"d":167,"b":2285,"e":171.6,"f":2141},{"d":168,"b":2285,"e":161.2,"f":2179},{"d":169,"b":2285,"e":164,"f":2175},{"d":170,"b":2285,"e":177,"f":2165},{"d":171,"b":2285,"e":167,"f":2165},{"d":172,"b":2285,"e":177,"f":2395},{"d":173,"b":2285,"e":170,"f":2155},{"d":174,"b":2285,"e":170.6,"f":2141},{"d":175,"b":2285,"e":171.6,"f":2141},{"d":176,"b":2285,"e":173.7,"f":2138},{"d":177,"b":2285,"e":167.9,"f":2320},{"d":178,"b":2285,"e":175.7,"f":2154},{"d":179,"b":2285,"e":180.1,"f":2135},
{"d":180,"b":2285,"e":181.1,"f":2431},{"d":181,"b":2285,"e":182.1,"f":2141},{"d":182,"b":2285,"e":184.3,"f":2431},{"d":183,"b":2285,"e":189,"f":2217},{"d":184,"b":2285,"e":187.4,"f":2130},{"d":185,"b":2285,"e":185.6,"f":2141},{"d":186,"b":2285,"e":198.5,"f":2356},{"d":187,"b":2285,"e":189.9,"f":2141},{"d":188,"b":2285,"e":184.6,"f":2419},{"d":189,"b":2285,"e":192.4,"f":2138},{"d":190,"b":2285,"e":193.4,"f":2130},{"d":191,"b":2285,"e":194.4,"f":2431},{"d":192,"b":2285,"e":192,"f":2130},{"d":193,"b":2285,"e":190,"f":2395},{"d":194,"b":2285,"e":195.1,"f":2141},{"d":195,"b":2285,"e":196.1,"f":2141},{"d":196,"b":2285,"e":192,"f":2415},{"d":197,"b":2285,"e":198.1,"f":2391},{"d":198,"b":2285,"e":200.8,"f":2419},{"d":199,"b":2285,"e":201.3,"f":2141},{"d":200,"b":2285,"e":196,"f":2385},{"d":201,"b":2285,"e":205,"f":2150},{"d":202,"b":2285,"e":203.1,"f":2141},{"d":203,"b":2285,"e":211,"f":2355},{"d":204,"b":2285,"e":208,"f":2431},{"d":205,"b":2285,"e":200,"f":2185},{"d":206,"b":2285,"e":208.9,"f":2151},{"d":207,"b":2285,"e":214,"f":2195},{"d":208,"b":2285,"e":209.1,"f":2147},{"d":209,"b":2285,"e":205,"f":2381},{"d":210,"b":2285,"e":212.9,"f":2419},{"d":211,"b":2285,"e":205,"f":2195},{"d":212,"b":2285,"e":213.1,"f":2147},{"d":213,"b":2285,"e":215.9,"f":2141},{"d":214,"b":2285,"e":210,"f":2381},{"d":215,"b":2285,"e":221.8,"f":2205},{"d":216,"b":2285,"e":218.9,"f":2419},{"d":217,"b":2285,"e":212,"f":2175},{"d":218,"b":2285,"e":219.7,"f":2431},{"d":219,"b":2285,"e":225,"f":2185},
{"d":220,"b":2285,"e":222.3,"f":2419},{"d":221,"b":2285,"e":221.6,"f":2173},{"d":222,"b":2285,"e":225.4,"f":2394},{"d":223,"b":2285,"e":219,"f":2165},{"d":224,"b":2285,"e":228.6,"f":2431},{"d":225,"b":2285,"e":231,"f":2395},{"d":226,"b":2285,"e":230,"f":2142},{"d":227,"b":2285,"e":233.8,"f":2356},{"d":228,"b":2285,"e":223,"f":2185},{"d":229,"b":2285,"e":233,"f":2141},{"d":230,"b":2285,"e":238,"f":2355},{"d":231,"b":2285,"e":228,"f":2155},{"d":232,"b":2285,"e":238,"f":2175},{"d":233,"b":2285,"e":236,"f":2425},{"d":234,"b":2285,"e":229,"f":2195},{"d":235,"b":2285,"e":240,"f":2145},{"d":236,"b":2285,"e":245,"f":2335},{"d":237,"b":2285,"e":231,"f":2185},{"d":238,"b":2285,"e":240.3,"f":2141},{"d":239,"b":2285,"e":243.6,"f":2393},{"d":240,"b":2285,"e":242.3,"f":2141},{"d":241,"b":2285,"e":238.7,"f":2419},{"d":242,"b":2285,"e":236,"f":2175},{"d":243,"b":2285,"e":247.6,"f":2138},{"d":244,"b":2285,"e":246.3,"f":2438},{"d":245,"b":2285,"e":242,"f":2155},{"d":246,"b":2285,"e":250,"f":2138},{"d":247,"b":2285,"e":241,"f":2195},{"d":248,"b":2285,"e":252.6,"f":2431},{"d":249,"b":2285,"e":253,"f":2138},{"d":250,"b":2285,"e":246,"f":2165},{"d":251,"b":2285,"e":253.3,"f":2431},{"d":252,"b":2285,"e":255,"f":2145},{"d":253,"b":2285,"e":248,"f":2185},{"d":254,"b":2285,"e":258,"f":2135},{"d":255,"b":2285,"e":257.3,"f":2431},{"d":256,"b":2285,"e":252,"f":2155},{"d":257,"b":2285,"e":258.1,"f":2141},{"d":258,"b":2285,"e":262.6,"f":2438},{"d":259,"b":2285,"e":253,"f":2205},
{"d":260,"b":2285,"e":262.3,"f":2141},{"d":261,"b":2285,"e":266.7,"f":2406},{"d":262,"b":2285,"e":259,"f":2165},{"d":263,"b":2285,"e":266,"f":2135},{"d":264,"b":2285,"e":266.9,"f":2130},{"d":265,"b":2285,"e":260,"f":2185},{"d":266,"b":2285,"e":271,"f":2415},{"d":267,"b":2285,"e":269.3,"f":2141},{"d":268,"b":2285,"e":264,"f":2155},{"d":269,"b":2285,"e":272,"f":2135},{"d":270,"b":2285,"e":276,"f":2395},{"d":271,"b":2285,"e":268,"f":2145},{"d":272,"b":2285,"e":275,"f":2130},{"d":273,"b":2285,"e":273,"f":2135},{"d":274,"b":2285,"e":279,"f":2155},{"d":275,"b":2285,"e":271,"f":2165},{"d":276,"b":2285,"e":277.1,"f":2130},{"d":277,"b":2285,"e":287,"f":2337},{"d":278,"b":2285,"e":282.6,"f":2135},{"d":279,"b":2285,"e":272.7,"f":2419},{"d":280,"b":2285,"e":285.7,"f":2141},{"d":281,"b":2285,"e":277,"f":2185},{"d":282,"b":2285,"e":287,"f":2165},{"d":283,"b":2285,"e":289.8,"f":2431},{"d":284,"b":2285,"e":285.7,"f":2431},{"d":285,"b":2285,"e":280,"f":2195},{"d":286,"b":2285,"e":292.3,"f":2141},{"d":287,"b":2285,"e":296.1,"f":2431},{"d":288,"b":2285,"e":292,"f":2155},{"d":289,"b":2285,"e":300.4,"f":2343},{"d":290,"b":2285,"e":292.3,"f":2431},{"d":291,"b":2285,"e":295,"f":2179},{"d":292,"b":2285,"e":286,"f":2225},{"d":293,"b":2285,"e":295.9,"f":2167},{"d":294,"b":2285,"e":298.6,"f":2141},{"d":295,"b":2285,"e":290,"f":2385},{"d":296,"b":2285,"e":300.6,"f":2133},{"d":297,"b":2285,"e":299.3,"f":2437},{"d":298,"b":2285,"e":294,"f":2185},{"d":299,"b":2285,"e":302.4,"f":2437},
{"d":300,"b":2285,"e":294,"f":2205},{"d":301,"b":2285,"e":306,"f":2405},{"d":302,"b":2285,"e":306.6,"f":2129},{"d":303,"b":2285,"e":299,"f":2175},{"d":304,"b":2285,"e":310,"f":2155},{"d":305,"b":2285,"e":300,"f":2385},{"d":306,"b":2285,"e":313,"f":2195},{"d":307,"b":2285,"e":298,"f":2325},{"d":308,"b":2285,"e":313,"f":2145},{"d":309,"b":2285,"e":317,"f":2185},{"d":310,"b":2285,"e":306,"f":2165},{"d":311,"b":2285,"e":317.8,"f":2141},{"d":312,"b":2285,"e":301,"f":2325},{"d":313,"b":2285,"e":322,"f":2205},{"d":314,"b":2285,"e":320.8,"f":2167},{"d":315,"b":2285,"e":310,"f":2185},{"d":316,"b":2285,"e":322.3,"f":2130},{"d":317,"b":2285,"e":325,"f":2225},{"d":318,"b":2285,"e":315,"f":2145},{"d":319,"b":2285,"e":325.3,"f":2141},{"d":320,"b":2285,"e":328,"f":2204},{"d":321,"b":2285,"e":323.3,"f":2299},{"d":322,"b":2285,"e":330,"f":2165},{"d":323,"b":2285,"e":317,"f":2175},{"d":324,"b":2285,"e":331,"f":2155},{"d":325,"b":2285,"e":333,"f":2166},{"d":326,"b":2285,"e":319,"f":2185},{"d":327,"b":2285,"e":336,"f":2175},{"d":328,"b":2285,"e":334,"f":2145},{"d":329,"b":2285,"e":334,"f":2129},{"d":330,"b":2285,"e":326,"f":2155},{"d":331,"b":2285,"e":339,"f":2167},{"d":332,"b":2285,"e":325.2,"f":2375},{"d":333,"b":2285,"e":335.3,"f":2394},{"d":334,"b":2285,"e":334,"f":2431},{"d":335,"b":2285,"e":336,"f":2265},{"d":336,"b":2285,"e":324,"f":2295}
]
},
"vconcat": [
{
"width": 1180, "height": 148,
"layer": [
{"data": {"values": [{"m":31,"a":0,"b":600},{"m":60,"a":0,"b":600},{"m":91,"a":0,"b":600},{"m":121,"a":0,"b":600},{"m":152,"a":0,"b":600},{"m":182,"a":0,"b":600},{"m":213,"a":0,"b":600},{"m":244,"a":0,"b":600},{"m":274,"a":0,"b":600},{"m":305,"a":0,"b":600},{"m":335,"a":0,"b":600}]},
 "mark": {"type": "rule", "color": "#d4d4d4", "strokeWidth": 1},
 "encoding": {
  "x": {"field": "m", "type": "quantitative", "scale": {"domain": [0, 363.6], "nice": false, "zero": false}, "axis": null},
  "y": {"field": "a", "type": "quantitative", "scale": {"domain": [0, 600], "reverse": true, "nice": false, "zero": false},
   "axis": {"title": null, "values": [0,100,200,300,400,500,600], "format": "d", "labelPadding": 8, "labelOverlap": false}},
  "y2": {"field": "b"}}},
{"data": {"values": [{"m":-1.23,"n":0,"a":50},{"m":-1.23,"n":0,"a":150},{"m":-1.23,"n":0,"a":250},{"m":-1.23,"n":0,"a":350},{"m":-1.23,"n":0,"a":450},{"m":-1.23,"n":0,"a":550}]},
 "mark": {"type": "rule", "color": "#333", "strokeWidth": 1},
 "encoding": {
  "x": {"field": "m", "type": "quantitative", "scale": {"domain": [0, 363.6], "nice": false, "zero": false}, "axis": null},
  "x2": {"field": "n"},
  "y": {"field": "a", "type": "quantitative", "scale": {"domain": [0, 600], "reverse": true, "nice": false, "zero": false},
   "axis": {"title": null, "values": [0,100,200,300,400,500,600], "format": "d", "labelPadding": 8, "labelOverlap": false}}}},
{"data": {"name": "p1"}, "mark": {"type": "rule", "color": "#000", "strokeWidth": 1},
 "encoding": {
  "x": {"field": "d", "type": "quantitative", "scale": {"domain": [0, 363.6], "nice": false, "zero": false}, "axis": null},
  "x2": {"field": "e"},
  "y": {"field": "b", "type": "quantitative", "scale": {"domain": [0, 600], "reverse": true, "nice": false, "zero": false},
   "axis": {"title": null, "values": [0,100,200,300,400,500,600], "format": "d", "labelPadding": 8, "labelOverlap": false}},
  "y2": {"field": "f"}}}
]
},
{
"width": 1180, "height": 155.7,
"layer": [
{"data": {"values": [{"m":31,"a":600,"b":1200},{"m":60,"a":600,"b":1200},{"m":91,"a":600,"b":1200},{"m":121,"a":600,"b":1200},{"m":152,"a":600,"b":1200},{"m":182,"a":600,"b":1200},{"m":213,"a":600,"b":1200},{"m":244,"a":600,"b":1200},{"m":274,"a":600,"b":1200},{"m":305,"a":600,"b":1200},{"m":335,"a":600,"b":1200}]},
 "mark": {"type": "rule", "color": "#d4d4d4", "strokeWidth": 1},
 "encoding": {
  "x": {"field": "m", "type": "quantitative", "scale": {"domain": [0, 363.6], "nice": false, "zero": false}, "axis": null},
  "y": {"field": "a", "type": "quantitative", "scale": {"domain": [600, 1229.5], "reverse": true, "nice": false, "zero": false},
   "axis": {"title": null, "domain": false, "values": [600,700,800,900,1000,1100,1200], "format": "d", "labelPadding": 8, "labelOverlap": false}},
  "y2": {"field": "b"}}},
{"data": {"values": [{"m":-1.23,"n":0,"a":650},{"m":-1.23,"n":0,"a":750},{"m":-1.23,"n":0,"a":850},{"m":-1.23,"n":0,"a":950},{"m":-1.23,"n":0,"a":1050},{"m":-1.23,"n":0,"a":1150}]},
 "mark": {"type": "rule", "color": "#333", "strokeWidth": 1},
 "encoding": {
  "x": {"field": "m", "type": "quantitative", "scale": {"domain": [0, 363.6], "nice": false, "zero": false}, "axis": null},
  "x2": {"field": "n"},
  "y": {"field": "a", "type": "quantitative", "scale": {"domain": [600, 1229.5], "reverse": true, "nice": false, "zero": false},
   "axis": {"title": null, "domain": false, "values": [600,700,800,900,1000,1100,1200], "format": "d", "labelPadding": 8, "labelOverlap": false}}}},
{"data": {"values": [{"m": 0, "a": 600, "b": 1200}]}, "mark": {"type": "rule", "color": "#333", "strokeWidth": 1},
 "encoding": {
  "x": {"field": "m", "type": "quantitative", "scale": {"domain": [0, 363.6], "nice": false, "zero": false}, "axis": null},
  "y": {"field": "a", "type": "quantitative", "scale": {"domain": [600, 1229.5], "reverse": true, "nice": false, "zero": false},
   "axis": {"title": null, "domain": false, "values": [600,700,800,900,1000,1100,1200], "format": "d", "labelPadding": 8, "labelOverlap": false}},
  "y2": {"field": "b"}}},
{"data": {"name": "p2"}, "mark": {"type": "rule", "color": "#000", "strokeWidth": 1},
 "encoding": {
  "x": {"field": "d", "type": "quantitative", "scale": {"domain": [0, 363.6], "nice": false, "zero": false}, "axis": null},
  "x2": {"field": "e"},
  "y": {"field": "b", "type": "quantitative", "scale": {"domain": [600, 1229.5], "reverse": true, "nice": false, "zero": false},
   "axis": {"title": null, "domain": false, "values": [600,700,800,900,1000,1100,1200], "format": "d", "labelPadding": 8, "labelOverlap": false}},
  "y2": {"field": "f"}}}
]
},
{
"width": 1180, "height": 203.3,
"layer": [
{"data": {"values": [{"m":31,"a":1200,"b":1800},{"m":60,"a":1200,"b":1800},{"m":91,"a":1200,"b":1800},{"m":121,"a":1200,"b":1800},{"m":152,"a":1200,"b":1800},{"m":182,"a":1200,"b":1800},{"m":213,"a":1200,"b":1800},{"m":244,"a":1200,"b":1800},{"m":274,"a":1200,"b":1800},{"m":305,"a":1200,"b":1800},{"m":335,"a":1200,"b":1800}]},
 "mark": {"type": "rule", "color": "#d4d4d4", "strokeWidth": 1},
 "encoding": {
  "x": {"field": "m", "type": "quantitative", "scale": {"domain": [0, 363.6], "nice": false, "zero": false}, "axis": null},
  "y": {"field": "a", "type": "quantitative", "scale": {"domain": [1200, 1855.8], "reverse": true, "nice": false, "zero": false},
   "axis": {"title": "Depth (m)", "titleFont": "Liberation Sans", "titleFontSize": 15, "titleFontWeight": "normal", "titleColor": "#222", "titleX": -57, "titleY": 28.5, "titleAngle": 270, "titleAlign": "center", "titleBaseline": "bottom", "domain": false, "values": [1200,1300,1400,1500,1600,1700,1800], "format": "d", "labelPadding": 8, "labelOverlap": false}},
  "y2": {"field": "b"}}},
{"data": {"values": [{"m":-1.23,"n":0,"a":1250},{"m":-1.23,"n":0,"a":1350},{"m":-1.23,"n":0,"a":1450},{"m":-1.23,"n":0,"a":1550},{"m":-1.23,"n":0,"a":1650},{"m":-1.23,"n":0,"a":1750}]},
 "mark": {"type": "rule", "color": "#333", "strokeWidth": 1},
 "encoding": {
  "x": {"field": "m", "type": "quantitative", "scale": {"domain": [0, 363.6], "nice": false, "zero": false}, "axis": null},
  "x2": {"field": "n"},
  "y": {"field": "a", "type": "quantitative", "scale": {"domain": [1200, 1855.8], "reverse": true, "nice": false, "zero": false},
   "axis": {"title": "Depth (m)", "titleFont": "Liberation Sans", "titleFontSize": 15, "titleFontWeight": "normal", "titleColor": "#222", "titleX": -57, "titleY": 28.5, "titleAngle": 270, "titleAlign": "center", "titleBaseline": "bottom", "domain": false, "values": [1200,1300,1400,1500,1600,1700,1800], "format": "d", "labelPadding": 8, "labelOverlap": false}}}},
{"data": {"values": [{"m": 0, "a": 1200, "b": 1800}]}, "mark": {"type": "rule", "color": "#333", "strokeWidth": 1},
 "encoding": {
  "x": {"field": "m", "type": "quantitative", "scale": {"domain": [0, 363.6], "nice": false, "zero": false}, "axis": null},
  "y": {"field": "a", "type": "quantitative", "scale": {"domain": [1200, 1855.8], "reverse": true, "nice": false, "zero": false},
   "axis": {"title": "Depth (m)", "titleFont": "Liberation Sans", "titleFontSize": 15, "titleFontWeight": "normal", "titleColor": "#222", "titleX": -57, "titleY": 28.5, "titleAngle": 270, "titleAlign": "center", "titleBaseline": "bottom", "domain": false, "values": [1200,1300,1400,1500,1600,1700,1800], "format": "d", "labelPadding": 8, "labelOverlap": false}},
  "y2": {"field": "b"}}},
{"data": {"name": "p3"}, "mark": {"type": "rule", "color": "#000", "strokeWidth": 1},
 "encoding": {
  "x": {"field": "d", "type": "quantitative", "scale": {"domain": [0, 363.6], "nice": false, "zero": false}, "axis": null},
  "x2": {"field": "e"},
  "y": {"field": "b", "type": "quantitative", "scale": {"domain": [1200, 1855.8], "reverse": true, "nice": false, "zero": false},
   "axis": {"title": "Depth (m)", "titleFont": "Liberation Sans", "titleFontSize": 15, "titleFontWeight": "normal", "titleColor": "#222", "titleX": -57, "titleY": 28.5, "titleAngle": 270, "titleAlign": "center", "titleBaseline": "bottom", "domain": false, "values": [1200,1300,1400,1500,1600,1700,1800], "format": "d", "labelPadding": 8, "labelOverlap": false}},
  "y2": {"field": "f"}}}
]
},
{
"width": 1180, "height": 158.3,
"layer": [
{"data": {"values": [{"m":31,"a":1800,"b":2400},{"m":60,"a":1800,"b":2400},{"m":91,"a":1800,"b":2400},{"m":121,"a":1800,"b":2400},{"m":152,"a":1800,"b":2400},{"m":182,"a":1800,"b":2400},{"m":213,"a":1800,"b":2400},{"m":244,"a":1800,"b":2400},{"m":274,"a":1800,"b":2400},{"m":305,"a":1800,"b":2400},{"m":335,"a":1800,"b":2400}]},
 "mark": {"type": "rule", "color": "#d4d4d4", "strokeWidth": 1},
 "encoding": {
  "x": {"field": "m", "type": "quantitative", "scale": {"domain": [0, 363.6], "nice": false, "zero": false},
   "axis": {"title": null, "values": [0,31,60,91,121,152,182,213,244,274,305,335], "labelExpr": "(indexof([0,31,60,91,121,152,182,213,244,274,305,335], datum.value) + 1) + '/1/08'", "labelPadding": 10, "labelFlush": false, "labelOverlap": false, "domainColor": "#000", "tickColor": "#000"}},
  "y": {"field": "a", "type": "quantitative", "scale": {"domain": [1800, 2400], "reverse": true, "nice": false, "zero": false},
   "axis": {"title": null, "values": [1800,1900,2000,2100,2200,2300,2400], "format": "d", "labelPadding": 8, "labelOverlap": false}},
  "y2": {"field": "b"}}},
{"data": {"values": [{"m":-1.23,"n":0,"a":1850},{"m":-1.23,"n":0,"a":1950},{"m":-1.23,"n":0,"a":2050},{"m":-1.23,"n":0,"a":2150},{"m":-1.23,"n":0,"a":2250},{"m":-1.23,"n":0,"a":2350}]},
 "mark": {"type": "rule", "color": "#333", "strokeWidth": 1},
 "encoding": {
  "x": {"field": "m", "type": "quantitative", "scale": {"domain": [0, 363.6], "nice": false, "zero": false},
   "axis": {"title": null, "values": [0,31,60,91,121,152,182,213,244,274,305,335], "labelExpr": "(indexof([0,31,60,91,121,152,182,213,244,274,305,335], datum.value) + 1) + '/1/08'", "labelPadding": 10, "labelFlush": false, "labelOverlap": false, "domainColor": "#000", "tickColor": "#000"}},
  "x2": {"field": "n"},
  "y": {"field": "a", "type": "quantitative", "scale": {"domain": [1800, 2400], "reverse": true, "nice": false, "zero": false},
   "axis": {"title": null, "values": [1800,1900,2000,2100,2200,2300,2400], "format": "d", "labelPadding": 8, "labelOverlap": false}}}},
{"data": {"values": [{"m":15.5,"a":2400,"b":2415},{"m":45.5,"a":2400,"b":2415},{"m":75.5,"a":2400,"b":2415},{"m":106,"a":2400,"b":2415},{"m":136.5,"a":2400,"b":2415},{"m":167,"a":2400,"b":2415},{"m":197.5,"a":2400,"b":2415},{"m":228.5,"a":2400,"b":2415},{"m":259,"a":2400,"b":2415},{"m":289.5,"a":2400,"b":2415},{"m":320,"a":2400,"b":2415},{"m":350.5,"a":2400,"b":2415}]},
 "mark": {"type": "rule", "color": "#000", "strokeWidth": 1},
 "encoding": {
  "x": {"field": "m", "type": "quantitative", "scale": {"domain": [0, 363.6], "nice": false, "zero": false},
   "axis": {"title": null, "values": [0,31,60,91,121,152,182,213,244,274,305,335], "labelExpr": "(indexof([0,31,60,91,121,152,182,213,244,274,305,335], datum.value) + 1) + '/1/08'", "labelPadding": 10, "labelFlush": false, "labelOverlap": false, "domainColor": "#000", "tickColor": "#000"}},
  "y": {"field": "a", "type": "quantitative", "scale": {"domain": [1800, 2400], "reverse": true, "nice": false, "zero": false},
   "axis": {"title": null, "values": [1800,1900,2000,2100,2200,2300,2400], "format": "d", "labelPadding": 8, "labelOverlap": false}},
  "y2": {"field": "b"}}},
{"data": {"name": "p4"}, "mark": {"type": "rule", "color": "#000", "strokeWidth": 1},
 "encoding": {
  "x": {"field": "d", "type": "quantitative", "scale": {"domain": [0, 363.6], "nice": false, "zero": false},
   "axis": {"title": null, "values": [0,31,60,91,121,152,182,213,244,274,305,335], "labelExpr": "(indexof([0,31,60,91,121,152,182,213,244,274,305,335], datum.value) + 1) + '/1/08'", "labelPadding": 10, "labelFlush": false, "labelOverlap": false, "domainColor": "#000", "tickColor": "#000"}},
  "x2": {"field": "e"},
  "y": {"field": "b", "type": "quantitative", "scale": {"domain": [1800, 2400], "reverse": true, "nice": false, "zero": false},
   "axis": {"title": null, "values": [1800,1900,2000,2100,2200,2300,2400], "format": "d", "labelPadding": 8, "labelOverlap": false}},
  "y2": {"field": "f"}}}
]
}
],
"spacing": 21,
"bounds": "flush",
"resolve": {"scale": {"x": "independent", "y": "independent"}}
}
